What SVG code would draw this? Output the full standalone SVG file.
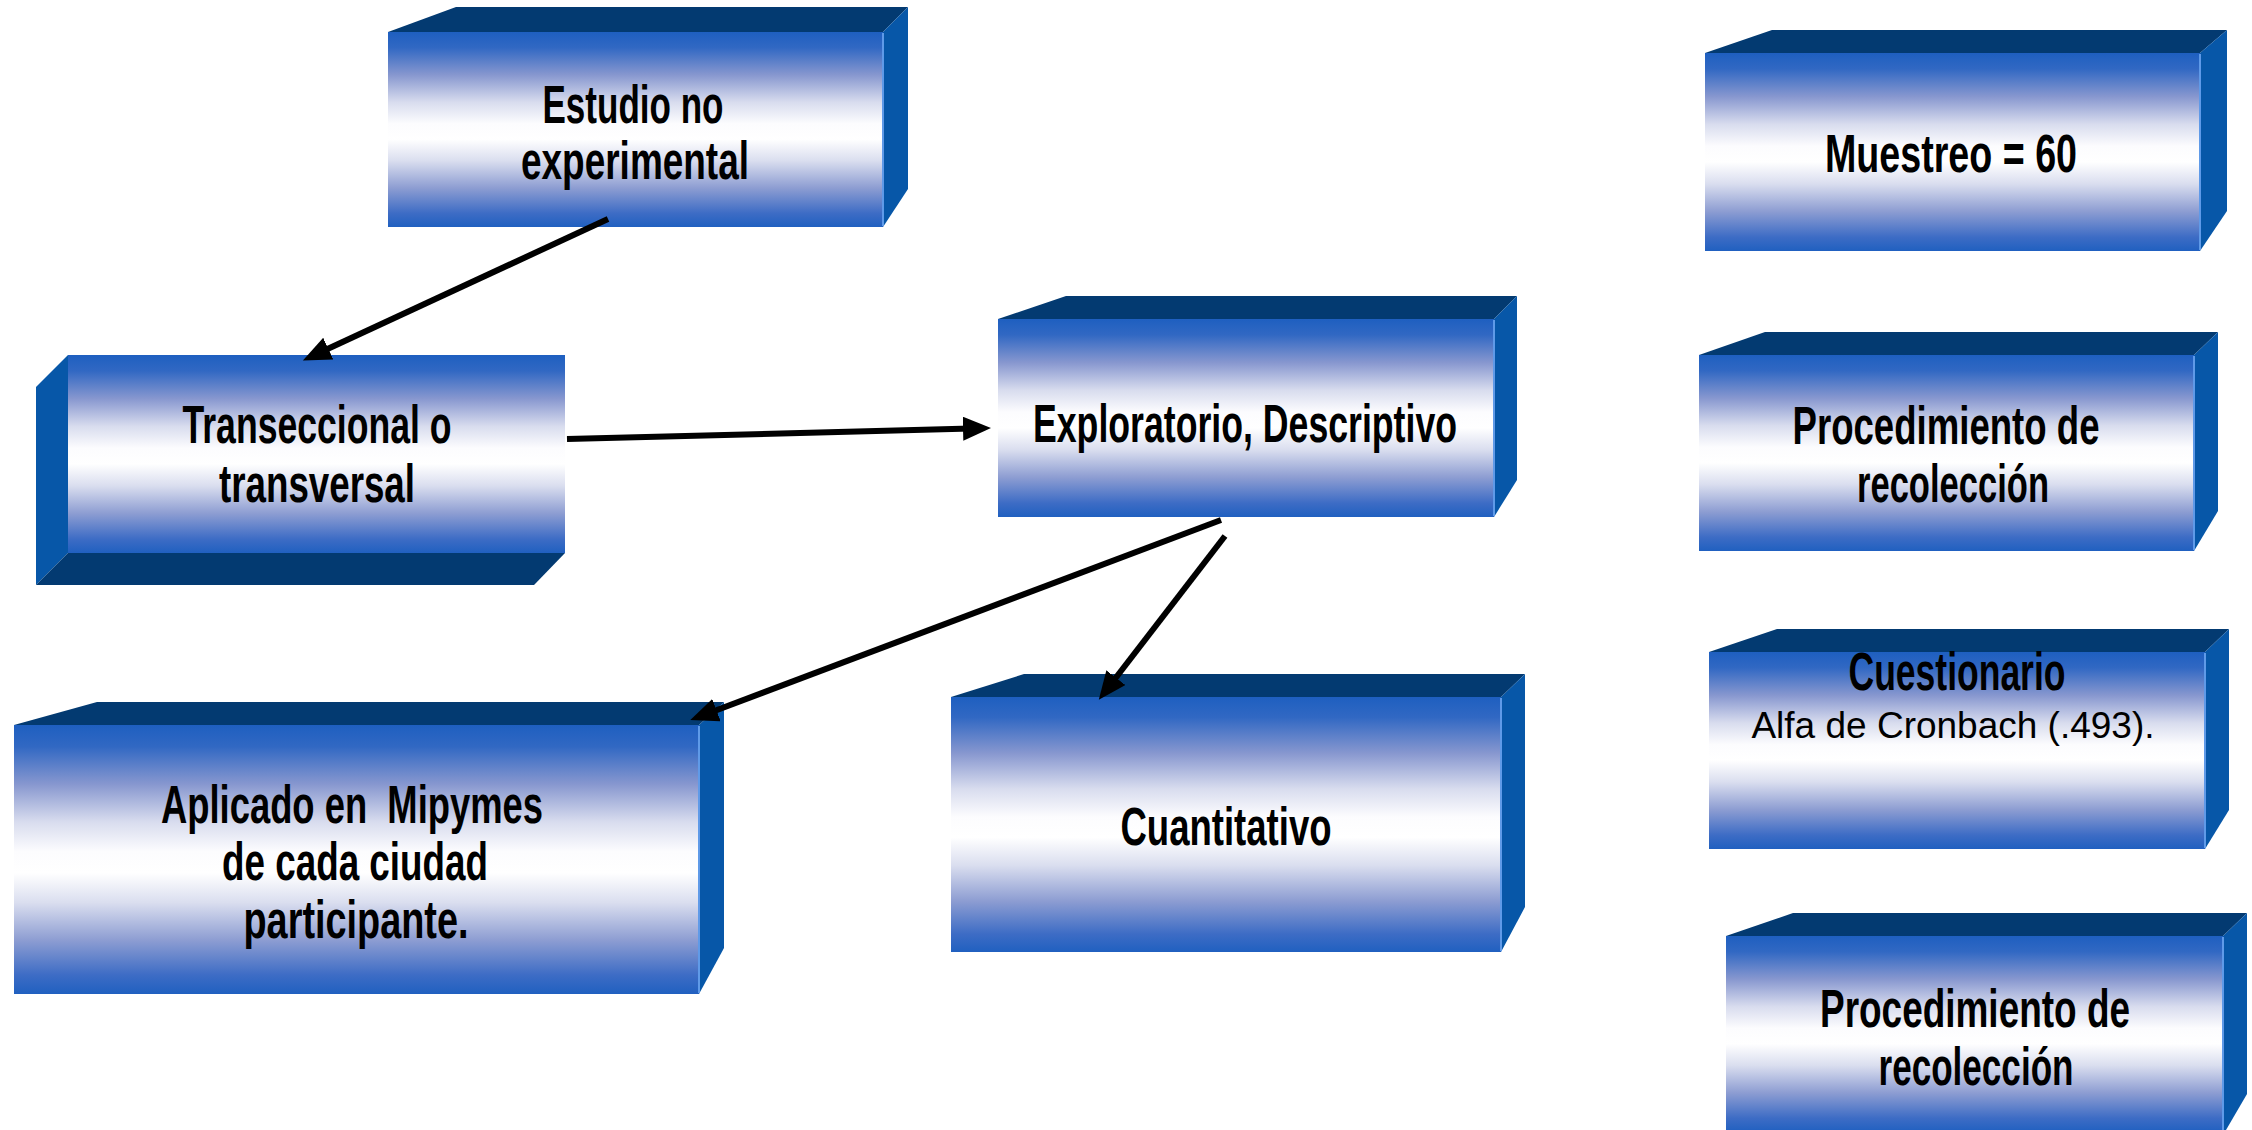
<svg xmlns="http://www.w3.org/2000/svg" width="2252" height="1130" viewBox="0 0 2252 1130">
<style>
.top{fill:#033a71}
.side{fill:#0757a8}
.front{fill:url(#fg)}
.hl{stroke:#5f9ae8;stroke-width:2}
.t{font-family:"Liberation Sans",Arial,sans-serif;font-weight:bold;font-size:53px;fill:#000;text-anchor:middle}
.r{font-family:"Liberation Sans",Arial,sans-serif;font-size:37px;fill:#000;text-anchor:middle}
.c{stroke:#000;stroke-width:6;fill:none;marker-end:url(#ah)}
</style>
<defs>
<linearGradient id="fg" x1="0" y1="0" x2="0" y2="1">
<stop offset="0" stop-color="#1e5fc0"/>
<stop offset="0.08" stop-color="#3168c3"/>
<stop offset="0.22" stop-color="#8797cf"/>
<stop offset="0.36" stop-color="#d8dcee"/>
<stop offset="0.47" stop-color="#fcfcfe"/>
<stop offset="0.55" stop-color="#ffffff"/>
<stop offset="0.66" stop-color="#dadeef"/>
<stop offset="0.8" stop-color="#8d9dd2"/>
<stop offset="0.93" stop-color="#3d6cc5"/>
<stop offset="1" stop-color="#2060c0"/>
</linearGradient>
<linearGradient id="fg9" gradientUnits="userSpaceOnUse" x1="0" y1="936" x2="0" y2="1132" href="#fg"/>
<marker id="ah" markerUnits="userSpaceOnUse" markerWidth="30" markerHeight="26" refX="8" refY="12" orient="auto">
<path d="M0,0 L28,12 L0,24 z" fill="#000"/>
</marker>
</defs>
<rect width="2252" height="1130" fill="#fff"/>

<g id="n1">
<polygon class="top" points="388,32 456,7 908,7 883,32"/>
<polygon class="side" points="883,32 908,7 908,189 883,227"/>
<rect class="front" x="388" y="32" width="495" height="195"/>
<line class="hl" x1="883" y1="33" x2="883" y2="226"/>
<text class="t" x="633" y="123" textLength="181" lengthAdjust="spacingAndGlyphs">Estudio no</text>
<text class="t" x="635" y="179" textLength="228" lengthAdjust="spacingAndGlyphs">experimental</text>
</g>

<g id="n2">
<polygon class="side" points="68,355 36,387 36,585 68,553"/>
<polygon class="top" points="68,553 565,553 534,585 36,585"/>
<rect class="front" x="68" y="355" width="497" height="198"/>
<text class="t" x="317" y="443" textLength="269" lengthAdjust="spacingAndGlyphs">Transeccional o</text>
<text class="t" x="317" y="502" textLength="196" lengthAdjust="spacingAndGlyphs">transversal</text>
</g>

<g id="n3">
<polygon class="top" points="998,319 1066,296 1517,296 1494,319"/>
<polygon class="side" points="1494,319 1517,296 1517,480 1494,517"/>
<rect class="front" x="998" y="319" width="496" height="198"/>
<line class="hl" x1="1494" y1="320" x2="1494" y2="516"/>
<text class="t" x="1245" y="442" textLength="424" lengthAdjust="spacingAndGlyphs">Exploratorio, Descriptivo</text>
</g>

<g id="n4">
<polygon class="top" points="14,725 97,702 724,702 699,725"/>
<polygon class="side" points="699,725 724,702 724,948 699,994"/>
<rect class="front" x="14" y="725" width="685" height="269"/>
<line class="hl" x1="699" y1="726" x2="699" y2="993"/>
<text class="t" x="352" y="823" textLength="382" lengthAdjust="spacingAndGlyphs" xml:space="preserve">Aplicado en  Mipymes</text>
<text class="t" x="355" y="880" textLength="266" lengthAdjust="spacingAndGlyphs">de cada ciudad</text>
<text class="t" x="356" y="938" textLength="225" lengthAdjust="spacingAndGlyphs">participante.</text>
</g>

<g id="n5">
<polygon class="top" points="951,697 1024,674 1525,674 1501,697"/>
<polygon class="side" points="1501,697 1525,674 1525,907 1501,952"/>
<rect class="front" x="951" y="697" width="550" height="255"/>
<line class="hl" x1="1501" y1="698" x2="1501" y2="951"/>
<text class="t" x="1226" y="845" textLength="211" lengthAdjust="spacingAndGlyphs">Cuantitativo</text>
</g>

<g id="n6">
<polygon class="top" points="1705,53 1772,30 2227,30 2200,53"/>
<polygon class="side" points="2200,53 2227,30 2227,211 2200,251"/>
<rect class="front" x="1705" y="53" width="495" height="198"/>
<line class="hl" x1="2200" y1="54" x2="2200" y2="250"/>
<text class="t" x="1951" y="172" textLength="252" lengthAdjust="spacingAndGlyphs">Muestreo = 60</text>
</g>

<g id="n7">
<polygon class="top" points="1699,355 1765,332 2218,332 2194,355"/>
<polygon class="side" points="2194,355 2218,332 2218,511 2194,551"/>
<rect class="front" x="1699" y="355" width="495" height="196"/>
<line class="hl" x1="2194" y1="356" x2="2194" y2="550"/>
<text class="t" x="1946" y="444" textLength="307" lengthAdjust="spacingAndGlyphs">Procedimiento de</text>
<text class="t" x="1953" y="502" textLength="192" lengthAdjust="spacingAndGlyphs">recolección</text>
</g>

<g id="n8">
<polygon class="top" points="1709,652 1777,629 2229,629 2205,652"/>
<polygon class="side" points="2205,652 2229,629 2229,810 2205,849"/>
<rect class="front" x="1709" y="652" width="496" height="197"/>
<line class="hl" x1="2205" y1="653" x2="2205" y2="848"/>
<text class="t" x="1957" y="690" textLength="217" lengthAdjust="spacingAndGlyphs">Cuestionario</text>
<text class="r" x="1953" y="738">Alfa de Cronbach (.493).</text>
</g>

<g id="n9">
<polygon class="top" points="1726,936 1793,913 2247,913 2223,936"/>
<polygon class="side" points="2223,936 2247,913 2247,1094 2226,1130 2223,1130"/>
<rect x="1726" y="936" width="497" height="194" fill="url(#fg9)"/>
<line class="hl" x1="2223" y1="937" x2="2223" y2="1130"/>
<text class="t" x="1975" y="1027" textLength="310" lengthAdjust="spacingAndGlyphs">Procedimiento de</text>
<text class="t" x="1976" y="1085" textLength="195" lengthAdjust="spacingAndGlyphs">recolección</text>
</g>

<g id="connectors">
<line class="c" x1="608" y1="219" x2="321" y2="352"/>
<line class="c" x1="567" y1="439" x2="971" y2="428.5"/>
<line class="c" x1="1221" y1="520" x2="709" y2="713"/>
<line class="c" x1="1225" y1="536" x2="1111" y2="684"/>
</g>
</svg>
